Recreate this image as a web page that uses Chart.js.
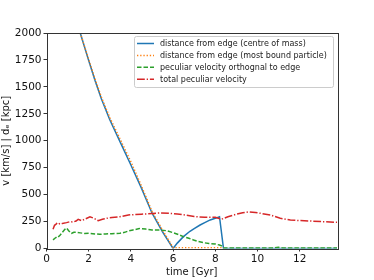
<!DOCTYPE html>
<html>
<head>
<meta charset="utf-8">
<script src="https://cdn.jsdelivr.net/npm/chart.js@4/dist/chart.umd.min.js"></script>
<style>
  html, body { margin: 0; padding: 0; background: #fff; }
  canvas { display: block; }
</style>
</head>
<body>
<canvas id="chart" width="374" height="280"></canvas>
<script>
// distance from edge (centre of mass)
const tCom = [1.6, 2.0, 2.3, 2.6, 3.0, 3.5, 4.0, 4.5, 5.0, 5.5, 6.0, 6.2, 6.49, 6.8, 7.0, 7.28, 7.5, 7.76, 8.0, 8.2, 8.39, 9, 10, 11, 12, 13, 13.77];
const dCom = [2000, 1745, 1560, 1390, 1195, 985, 775, 560, 330, 155, 0, 50, 110, 160, 185, 218, 240, 265, 280, 295, 0, 0, 0, 0, 0, 0, 0];

// distance from edge (most bound particle)
const tMbp = [1.6, 2.0, 2.3, 2.6, 3.0, 3.5, 4.0, 4.5, 5.0, 5.5, 6.0, 6.5, 7.0, 7.5, 8.0, 8.4];
const dMbp = [2000, 1755, 1575, 1405, 1215, 1010, 805, 580, 345, 170, 8, 8, 8, 8, 8, 8];

// peculiar velocity orthogonal to edge
const tOrth = [0.31, 0.4, 0.5, 0.55, 0.65, 0.75, 0.87, 0.95, 1.05, 1.19, 1.3, 1.42, 1.6, 1.8, 2.06, 2.3, 2.53, 2.8, 3.1, 3.48, 3.7, 3.88, 4.1, 4.4, 4.7, 5.0, 5.38, 5.7, 6.0, 6.25, 6.49, 6.75, 6.97, 7.2, 7.44, 7.7, 8.0, 8.2, 8.3, 8.39, 9, 10, 10.8, 11.0, 11.2, 12, 13, 13.77];
const vOrth = [80, 95, 110, 105, 125, 150, 178, 190, 165, 141, 150, 150, 145, 140, 141, 135, 132, 135, 138, 141, 150, 162, 172, 185, 180, 172, 172, 165, 147, 130, 110, 95, 79, 65, 54, 47, 42, 32, 25, 4, 4, 5, 5, 11, 5, 5, 5, 5];

// total peculiar velocity
const tTot = [0.31, 0.38, 0.44, 0.5, 0.55, 0.63, 0.75, 0.95, 1.1, 1.27, 1.4, 1.5, 1.66, 1.85, 2.06, 2.25, 2.45, 2.65, 2.85, 3.1, 3.48, 3.88, 4.2, 4.5, 5.0, 5.4, 5.8, 6.2, 6.6, 7.0, 7.5, 8.0, 8.3, 8.6, 9.0, 9.3, 9.6, 9.9, 10.13, 10.61, 11.08, 11.56, 12.0, 12.51, 13.0, 13.77];
const vTot = [178, 215, 224, 235, 240, 227, 232, 240, 248, 246, 255, 271, 258, 275, 295, 280, 258, 272, 280, 288, 295, 311, 315, 318, 325, 330, 327, 320, 310, 296, 290, 290, 272, 295, 318, 332, 340, 335, 327, 311, 280, 264, 259, 255, 250, 243];

const labels = [
  "distance from edge (centre of mass)",
  "distance from edge (most bound particle)",
  "peculiar velocity orthognal to edge",
  "total peculiar velocity"
];

const pts = (xs, ys) => xs.map((x, i) => ({ x: x, y: ys[i] }));
const FONT = "'DejaVu Sans', sans-serif";

// matplotlib-like frame around the axes
const framePlugin = {
  id: "frame",
  afterDatasetsDraw(chart) {
    const { ctx, chartArea: a } = chart;
    ctx.save();
    ctx.strokeStyle = "#333";
    ctx.lineWidth = 1;
    ctx.strokeRect(Math.round(a.left) + 0.5, Math.round(a.top) + 0.5,
      Math.round(a.right - a.left), Math.round(a.bottom - a.top));
    ctx.restore();
  }
};

// legend box in the upper right corner, drawn from the datasets
const legendPlugin = {
  id: "boxLegend",
  afterDraw(chart) {
    const { ctx } = chart;
    const x0 = 134, y0 = 36, w = 199, h = 51;
    ctx.save();
    ctx.fillStyle = "rgba(255,255,255,0.85)";
    ctx.strokeStyle = "#cccccc";
    ctx.lineWidth = 1;
    ctx.beginPath();
    ctx.roundRect(x0 + 0.5, y0 + 0.5, w, h, 2);
    ctx.fill();
    ctx.stroke();
    ctx.font = "8px " + FONT;
    ctx.textBaseline = "middle";
    chart.data.datasets.forEach((ds, i) => {
      const y = 43.5 + i * 11.9;
      ctx.strokeStyle = ds.borderColor;
      ctx.lineWidth = ds.borderWidth;
      ctx.setLineDash(ds.borderDash || []);
      ctx.beginPath();
      ctx.moveTo(137, y);
      ctx.lineTo(154, y);
      ctx.stroke();
      ctx.setLineDash([]);
      ctx.fillStyle = "#222";
      ctx.fillText(ds.label, 160, y + 0.5);
    });
    ctx.restore();
  }
};

new Chart(document.getElementById("chart"), {
  type: "line",
  data: {
    datasets: [
      // higher order is drawn first, so later series sit on top like in matplotlib
      { label: labels[0], data: pts(tCom, dCom), borderColor: "#1f77b4", borderWidth: 1.5, order: 4 },
      { label: labels[1], data: pts(tMbp, dMbp), borderColor: "#ff7f0e", borderWidth: 1.5, borderDash: [1.3, 1.9], order: 3 },
      { label: labels[2], data: pts(tOrth, vOrth), borderColor: "#2ca02c", borderWidth: 1.5, borderDash: [4.5, 2], order: 2 },
      { label: labels[3], data: pts(tTot, vTot), borderColor: "#d62728", borderWidth: 1.5, borderDash: [7.8, 1.9, 1.3, 1.9], order: 1 }
    ]
  },
  options: {
    responsive: false,
    animation: false,
    devicePixelRatio: 1,
    layout: { padding: { top: 33, right: 37, left: 0, bottom: 0 } },
    elements: { point: { radius: 0 }, line: { tension: 0, fill: false } },
    plugins: { legend: { display: false }, tooltip: { enabled: false } },
    scales: {
      x: {
        type: "linear",
        min: 0,
        max: 13.77,
        afterFit(s) { s.height = 31.5; },
        border: { display: false },
        grid: { drawOnChartArea: false, drawTicks: true, tickLength: 3, color: "#333" },
        ticks: { stepSize: 2, includeBounds: false, maxRotation: 0, padding: 1, color: "#111", font: { family: FONT, size: 10.5 },
          callback: (v) => String(v) },
        title: { display: true, text: "time [Gyr]", color: "#111", padding: { top: 0, bottom: 2 }, font: { family: FONT, size: 10 } }
      },
      y: {
        min: 0,
        max: 2000,
        afterFit(s) { s.width = 46.5; },
        border: { display: false },
        grid: { drawOnChartArea: false, drawTicks: true, tickLength: 3, color: "#333" },
        ticks: { stepSize: 250, padding: 2, color: "#111", font: { family: FONT, size: 10.5 },
          callback: (v) => String(v) },
        title: { display: true, text: "v [km/s] | dₑ [kpc]", color: "#111", padding: { top: 0, bottom: 2 }, font: { family: FONT, size: 10 } }
      }
    }
  },
  plugins: [framePlugin, legendPlugin]
});
</script>
</body>
</html>
